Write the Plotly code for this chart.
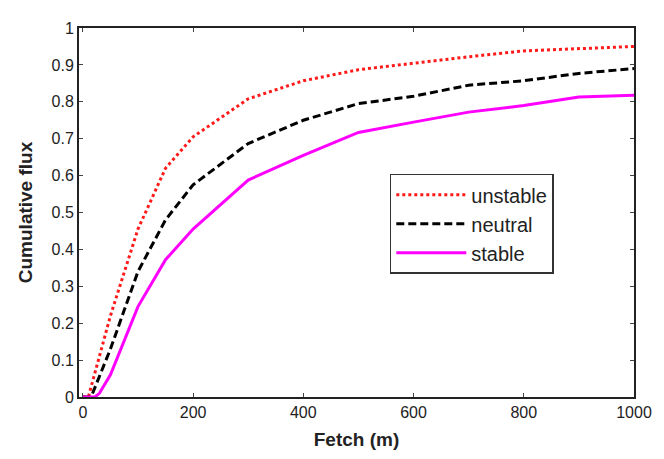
import plotly.graph_objects as go

fetch_unstable = [0, 10, 50, 100, 150, 200, 300, 400, 500, 600, 700, 800, 900, 1000]
unstable = [0, 0, 0.22, 0.455, 0.62, 0.705, 0.808, 0.857, 0.887, 0.905, 0.922, 0.938, 0.943, 0.95]

fetch_neutral = [0, 15, 50, 100, 150, 200, 300, 400, 500, 600, 700, 800, 900, 1000]
neutral = [0, 0, 0.13, 0.34, 0.48, 0.575, 0.687, 0.75, 0.795, 0.815, 0.845, 0.857, 0.877, 0.89]

fetch_stable = [0, 22, 30, 50, 100, 150, 200, 300, 400, 500, 600, 700, 800, 900, 1000]
stable = [0, 0, 0.01, 0.06, 0.245, 0.372, 0.455, 0.588, 0.655, 0.717, 0.745, 0.772, 0.79, 0.813, 0.818]

x_ticks = [0, 200, 400, 600, 800, 1000]
y_ticks = [0, 0.1, 0.2, 0.3, 0.4, 0.5, 0.6, 0.7, 0.8, 0.9, 1]
y_labels = ["0", "0.1", "0.2", "0.3", "0.4", "0.5", "0.6", "0.7", "0.8", "0.9", "1"]

fig = go.Figure()
fig.add_trace(go.Scatter(x=fetch_unstable, y=unstable, mode="lines", name="unstable",
                         line=dict(color="#ff1a1a", width=3, dash="3px,3px")))
fig.add_trace(go.Scatter(x=fetch_neutral, y=neutral, mode="lines", name="neutral",
                         line=dict(color="black", width=3, dash="8px,4px")))
fig.add_trace(go.Scatter(x=fetch_stable, y=stable, mode="lines", name="stable",
                         line=dict(color="#ff00ff", width=3)))

font_family = "Liberation Sans, Arial, sans-serif"
fig.update_layout(
    width=656, height=451,
    margin=dict(l=71, r=30, t=12, b=56),
    plot_bgcolor="white", paper_bgcolor="white",
    showlegend=True,
    font=dict(family=font_family, color="#222", size=16),
    legend=dict(x=0.56, y=0.605, xanchor="left", yanchor="top",
                bordercolor="#333", borderwidth=1.5, bgcolor="white",
                font=dict(size=20, family=font_family, color="#222"),
                itemwidth=70, tracegroupgap=0),
    xaxis=dict(range=[-7, 1000], tickvals=x_ticks, ticks="inside", ticklen=4,
               showline=True, linewidth=2, linecolor="#222", mirror="ticks",
               showgrid=False, zeroline=False,
               tickfont=dict(size=16, family=font_family),
               title=dict(text="<b>Fetch (m)</b>", font=dict(size=19, family=font_family), standoff=12)),
    yaxis=dict(range=[0, 1], tickvals=y_ticks, ticktext=y_labels, ticks="inside", ticklen=4,
               showline=True, linewidth=2, linecolor="#222", mirror="ticks",
               showgrid=False, zeroline=False,
               tickfont=dict(size=16, family=font_family),
               title=dict(text="<b>Cumulative flux</b>", font=dict(size=19, family=font_family), standoff=14)),
)

fig.write_html("out.html")
